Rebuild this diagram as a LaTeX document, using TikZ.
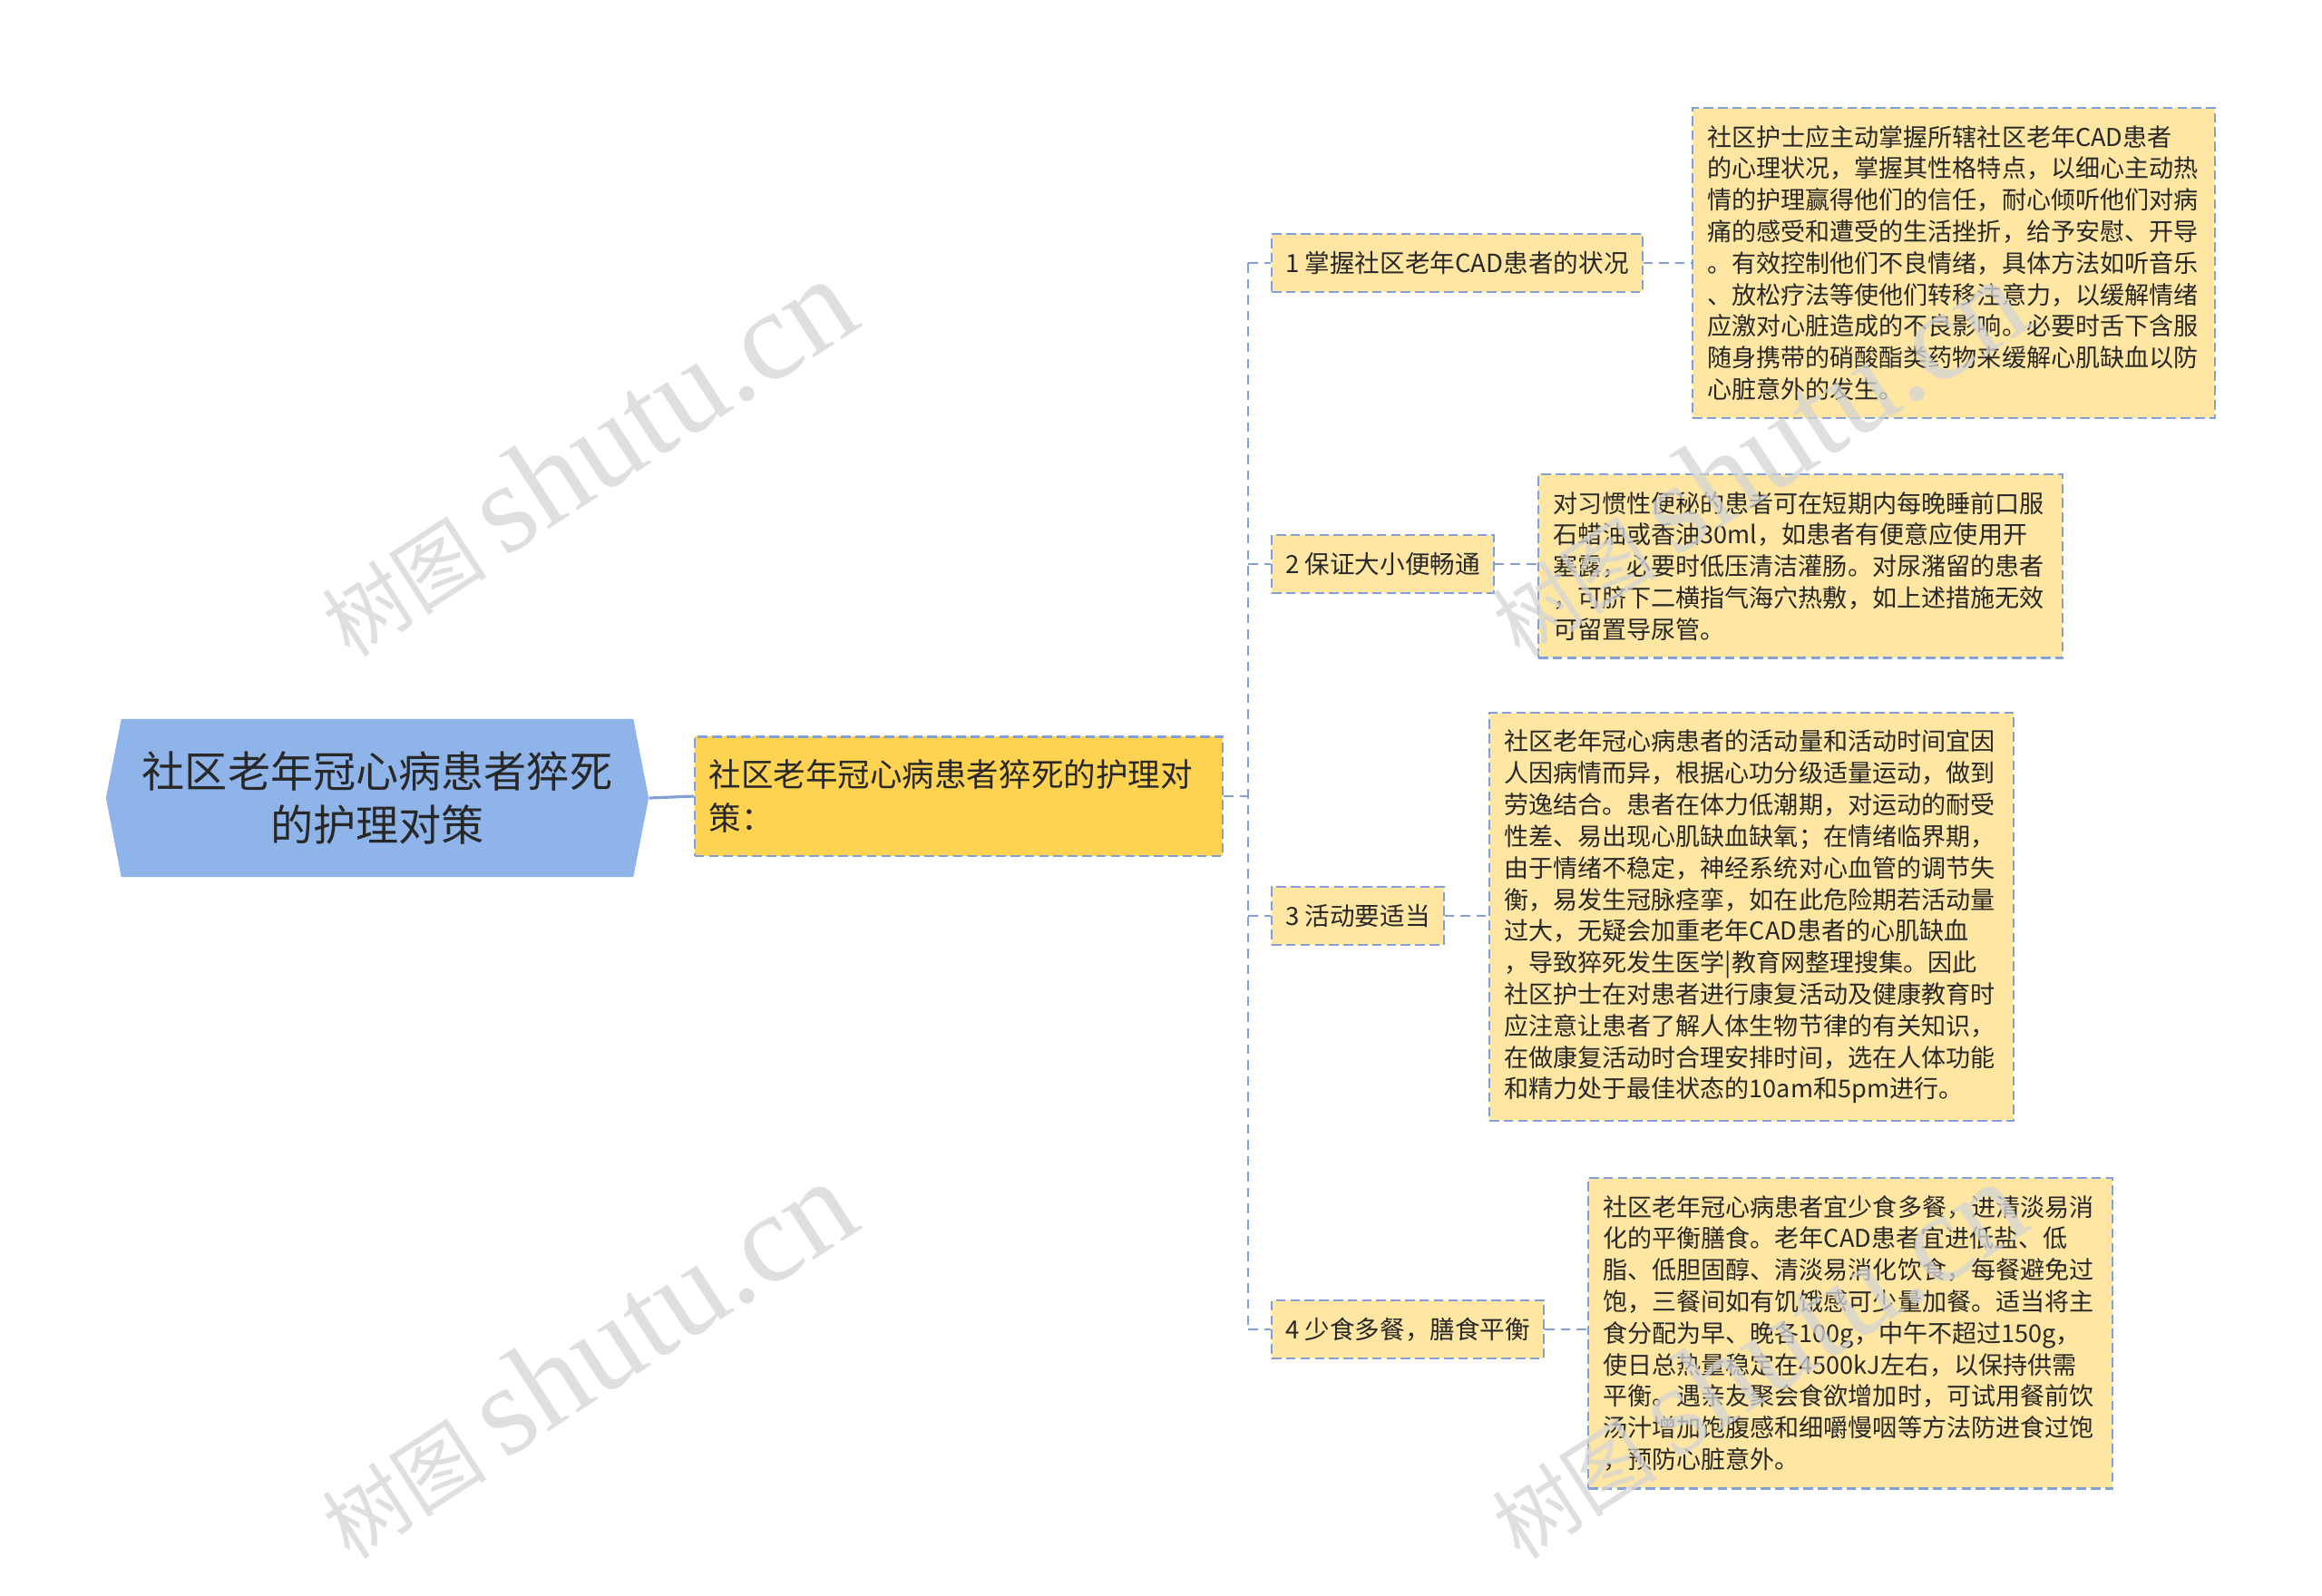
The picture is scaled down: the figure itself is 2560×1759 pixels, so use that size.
\documentclass[tikz,border=0pt]{standalone}
\usepackage{fontspec}
\setmainfont{Noto Sans CJK SC}
\newfontfamily\stampfont{Liberation Serif}
\usetikzlibrary{shapes.symbols}
\definecolor{rootblue}{RGB}{142,180,234}
\definecolor{mainfill}{RGB}{255,211,82}
\definecolor{notefill}{RGB}{255,230,162}
\definecolor{edge}{RGB}{128,160,214}
\definecolor{ink}{RGB}{40,40,40}
\begin{document}
\begin{tikzpicture}[x=0.01cm, y=-0.01cm,
% common options for the boxes:
box/.style = {draw=edge, line width=0.6pt, dash pattern=on 3pt off 1.5pt,
            align=left, text=ink, inner xsep=0.16cm},
% the four numbered points:
point/.style = {box, fill=notefill, anchor=west, minimum height=0.64cm,
            inner xsep=0.15cm, font=\fontsize{7.85}{9.9}\selectfont},
% the long texts:
note/.style = {box, fill=notefill, anchor=north west, inner ysep=0.19cm,
            font=\fontsize{7.7}{9.9}\selectfont},
% connectors:
link/.style = {draw=edge, line width=0.6pt, dash pattern=on 3pt off 2pt},
% watermark:
stamp/.style = {rotate=33, text=black!17, text opacity=0.75, inner sep=0}]
\useasboundingbox (0,0) rectangle (2560,1759);
\node[signal, signal to=west and east, signal pointer angle=158, fill=rootblue,
      minimum width=5.98cm, minimum height=1.74cm, align=center, text=ink,
      font=\fontsize{13.4}{16.8}\selectfont] (root) at (416,880)
      {社区老年冠心病患者猝死\\的护理对策};
\node[box, fill=mainfill, text width=5.5cm, minimum height=1.31cm,
      font=\fontsize{10.1}{13.5}\selectfont] (main) at (1057,878)
      {社区老年冠心病患者猝死的护理对\\策：};
\node[point] (it1) at (1401,290) {1 掌握社区老年CAD患者的状况};
\node[point] (it2) at (1401,622) {2 保证大小便畅通};
\node[point] (it3) at (1401,1010) {3 活动要适当};
\node[point] (it4) at (1401,1466) {4 少食多餐，膳食平衡};
\node[note, text width=5.44cm] (d1) at (1865,118)
{社区护士应主动掌握所辖社区老年CAD患者\\
的心理状况，掌握其性格特点，以细心主动热\\
情的护理赢得他们的信任，耐心倾听他们对病\\
痛的感受和遭受的生活挫折，给予安慰、开导\\
。有效控制他们不良情绪，具体方法如听音乐\\
、放松疗法等使他们转移注意力，以缓解情绪\\
应激对心脏造成的不良影响。必要时舌下含服\\
随身携带的硝酸酯类药物来缓解心肌缺血以防\\
心脏意外的发生。};
\node[note, text width=5.46cm] (d2) at (1695,522)
{对习惯性便秘的患者可在短期内每晚睡前口服\\
石蜡油或香油30ml，如患者有便意应使用开\\
塞露，必要时低压清洁灌肠。对尿潴留的患者\\
，可脐下二横指气海穴热敷，如上述措施无效\\
可留置导尿管。};
\node[note, text width=5.46cm] (d3) at (1641,785)
{社区老年冠心病患者的活动量和活动时间宜因\\
人因病情而异，根据心功分级适量运动，做到\\
劳逸结合。患者在体力低潮期，对运动的耐受\\
性差、易出现心肌缺血缺氧；在情绪临界期，\\
由于情绪不稳定，神经系统对心血管的调节失\\
衡，易发生冠脉痉挛，如在此危险期若活动量\\
过大，无疑会加重老年CAD患者的心肌缺血\\
，导致猝死发生医学|教育网整理搜集。因此\\
社区护士在对患者进行康复活动及健康教育时\\
应注意让患者了解人体生物节律的有关知识，\\
在做康复活动时合理安排时间，选在人体功能\\
和精力处于最佳状态的10am和5pm进行。};
\node[note, text width=5.46cm] (d4) at (1750,1298)
{社区老年冠心病患者宜少食多餐，进清淡易消\\
化的平衡膳食。老年CAD患者宜进低盐、低\\
脂、低胆固醇、清淡易消化饮食，每餐避免过\\
饱，三餐间如有饥饿感可少量加餐。适当将主\\
食分配为早、晚各100g，中午不超过150g，\\
使日总热量稳定在4500kJ左右，以保持供需\\
平衡。遇亲友聚会食欲增加时，可试用餐前饮\\
汤汁增加饱腹感和细嚼慢咽等方法防进食过饱\\
，预防心脏意外。};
\coordinate (trunk) at (1376,878);
\draw[draw=edge, line width=0.9pt] (root.east) -- (main.west);
\draw[link] (main.east) -- (trunk);
\draw[link] (trunk |- it1.west) -- (trunk |- it4.west);
\foreach \i in {1,...,4} {
  \draw[link] (trunk |- it\i.west) -- (it\i.west);
  \draw[link] (it\i.east) -- (it\i.east -| d\i.west);
}
% watermark
\node[stamp] (wm1) at (645,504) {\fontsize{26}{26}\selectfont 树图 \stampfont\fontsize{40}{40}\selectfont shutu.cn};
\node[stamp] (wm2) at (645,1499) {\fontsize{26}{26}\selectfont 树图 \stampfont\fontsize{40}{40}\selectfont shutu.cn};
\node[stamp] (wm3) at (1935,504) {\fontsize{26}{26}\selectfont 树图 \stampfont\fontsize{40}{40}\selectfont shutu.cn};
\node[stamp] (wm4) at (1935,1499) {\fontsize{26}{26}\selectfont 树图 \stampfont\fontsize{40}{40}\selectfont shutu.cn};
\end{tikzpicture}
\end{document}
